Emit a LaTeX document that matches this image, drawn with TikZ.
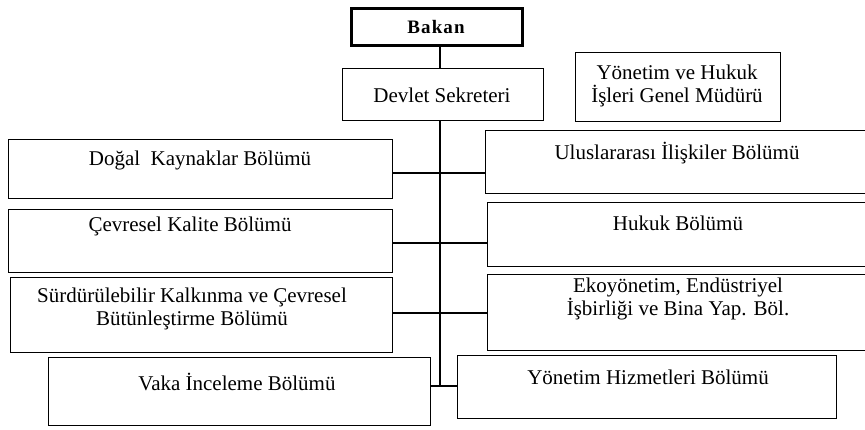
\documentclass[tikz,border=0pt]{standalone}
\usepackage{fontspec}
\setmainfont{Liberation Serif}
\begin{document}
\begin{tikzpicture}[x=1pt,y=-1pt,
  box/.style={draw, line width=1.3pt, inner sep=0pt, anchor=north west},
  topbox/.style={draw, line width=2.8pt, inner sep=0pt, anchor=north west},
  lbl/.style={inner sep=0pt, align=center, font=\fontsize{21}{23}\selectfont},
  conn/.style={line width=1.1pt}]
\useasboundingbox (0,0) rectangle (865,430);
% boxes
\node[topbox, minimum width=171pt, minimum height=37pt] (bakan) at (350,7) {};
\node[box, minimum width=201pt, minimum height=52pt] (devlet) at (342,68) {};
\node[box, minimum width=205pt, minimum height=69pt] (ygm) at (575,52) {};
\node[box, minimum width=384pt, minimum height=59pt] (dogal) at (8,139) {};
\node[box, minimum width=385pt, minimum height=63pt] (ulus) at (485,130) {};
\node[box, minimum width=384pt, minimum height=63pt] (cevre) at (8,209) {};
\node[box, minimum width=383pt, minimum height=64pt] (hukuk) at (487,202) {};
\node[box, minimum width=382pt, minimum height=75pt] (surd) at (10,277) {};
\node[box, minimum width=383pt, minimum height=76pt] (eko) at (487,274) {};
\node[box, minimum width=382pt, minimum height=68pt] (vaka) at (48,357) {};
\node[box, minimum width=379pt, minimum height=63pt] (yh) at (457,355) {};
% labels
\node[lbl, font=\fontsize{19}{21}\selectfont\bfseries\addfontfeature{LetterSpace=6}] (bakant) at (436,27) {Bakan};
\node[lbl] (devlett) at (442,95) {Devlet Sekreteri};
\node[lbl] (ygmt) at (677,86) {Yönetim ve Hukuk\\İşleri Genel Müdürü};
\node[lbl] (dogalt) at (200,160) {Doğal\ \ Kaynaklar Bölümü};
\node[lbl] (ulust) at (677,153) {Uluslararası İlişkiler Bölümü};
\node[lbl] (cevret) at (190,226) {Çevresel Kalite Bölümü};
\node[lbl] (hukukt) at (678,223) {Hukuk Bölümü};
\node[lbl] (surdt) at (192,309) {Sürdürülebilir Kalkınma ve Çevresel\\Bütünleştirme Bölümü};
\node[lbl] (ekot) at (678,299) {Ekoyönetim, Endüstriyel\\İşbirliği ve Bina Yap. Böl.};
\node[lbl] (vakat) at (237,382) {Vaka İnceleme Bölümü};
\node[lbl] (yht) at (648,377) {Yönetim Hizmetleri Bölümü};
% spine
\coordinate (j1) at (440,173);
\coordinate (j2) at (440,243);
\coordinate (j3) at (440,313);
\coordinate (j4) at (440,386);
\draw[conn] (bakan.south -| j1) -- (devlet.north -| j1);
\draw[conn] (devlet.south -| j1) -- (j4);
\draw[conn] (j1 -| dogal.east) -- (j1 -| ulus.west);
\draw[conn] (j2 -| cevre.east) -- (j2 -| hukuk.west);
\draw[conn] (j3 -| surd.east) -- (j3 -| eko.west);
\draw[conn] (j4 -| vaka.east) -- (j4 -| yh.west);
\end{tikzpicture}
\end{document}
